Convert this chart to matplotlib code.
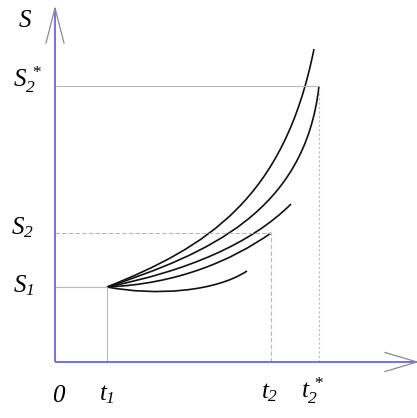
import matplotlib
matplotlib.use("Agg")
import matplotlib.pyplot as plt
from matplotlib.path import Path
from matplotlib.patches import PathPatch

plt.rcParams["mathtext.fontset"] = "custom"
plt.rcParams["mathtext.it"] = "Liberation Serif:italic"
plt.rcParams["mathtext.rm"] = "Liberation Serif:italic"
plt.rcParams["mathtext.default"] = "it"

# Key times and stock levels
t1, t2, t2_star = 52, 216, 264
S1, S2, S2_star = 75, 129, 276

# Trajectories leaving (t1, S1): cubic Bezier control points (x list, y list)
curve_a_x = [t1, 152, 229, 259]
curve_a_y = [S1, 115, 163, 313]
curve_b_x = [t1, 152, 250, t2_star]
curve_b_y = [S1, 108, 150, S2_star]
curve_c_x = [t1, 132, 196, 236]
curve_c_y = [S1, 91, 118, 158]
curve_d_x = [t1, 122, 176, t2]
curve_d_y = [S1, 78, 101, S2]
curve_e_x = [t1, 100, 160, 192]
curve_e_y = [S1, 66, 70, 91]

curves = [(curve_a_x, curve_a_y), (curve_b_x, curve_b_y), (curve_c_x, curve_c_y),
          (curve_d_x, curve_d_y), (curve_e_x, curve_e_y)]

fig = plt.figure(figsize=(4.17, 4.18), dpi=100)
ax = fig.add_axes([0, 0, 1, 1])
ax.set_xlim(-55, 362)
ax.set_ylim(-56, 362)
ax.axis("off")

axis_col = "#6464f4"
guide_col = "#b8b8b8"
arrow_col = "#8a8a8a"

# guide lines
ax.plot([0, t1], [S1, S1], color=guide_col, lw=0.8)
ax.plot([t1, t1], [0, S1], color=guide_col, lw=0.8)
ax.plot([0, t2], [S2, S2], color=guide_col, lw=0.8, ls=(0, (4, 2)))
ax.plot([t2, t2], [0, S2], color=guide_col, lw=0.8, ls=(0, (4, 2)))
ax.plot([0, t2_star], [S2_star, S2_star], color=guide_col, lw=0.8)
ax.plot([t2_star, t2_star], [0, S2_star], color=guide_col, lw=0.8, ls=(0, (2, 2)))

# axes
ax.plot([0, 0], [0, 354], color=axis_col, lw=1.3, solid_capstyle="butt")
ax.plot([0, 362], [0, 0], color=axis_col, lw=1.3, solid_capstyle="butt")
ax.plot([-9, 0, 9], [319, 354, 319], color=arrow_col, lw=0.9)
ax.plot([330, 362, 330], [9.5, 0, -9.5], color=arrow_col, lw=0.9)

# trajectories
codes = [Path.MOVETO, Path.CURVE4, Path.CURVE4, Path.CURVE4]
for xs, ys in curves:
    path = Path(list(zip(xs, ys)), codes)
    ax.add_patch(PathPatch(path, fill=False, edgecolor="#111111", lw=1.2))

fs = 18
ax.text(-37, 335, r"$S$", fontsize=fs, ha="left", va="baseline")
ax.text(-42, S2_star - 1, r"$S_2^{\,*}$", fontsize=fs, ha="left", va="baseline")
ax.text(-44, S2 - 1, r"$S_2$", fontsize=fs, ha="left", va="baseline")
ax.text(-42, S1 - 5, r"$S_1$", fontsize=fs, ha="left", va="baseline")

ax.text(-3, -40, r"$0$", fontsize=fs, ha="left", va="baseline")
ax.text(44, -38, r"$t_1$", fontsize=fs, ha="left", va="baseline")
ax.text(206, -36, r"$t_2$", fontsize=fs, ha="left", va="baseline")
ax.text(246, -36, r"$t_2^{\,*}$", fontsize=fs, ha="left", va="baseline")

fig.savefig("out.png", dpi=100, facecolor="white")
